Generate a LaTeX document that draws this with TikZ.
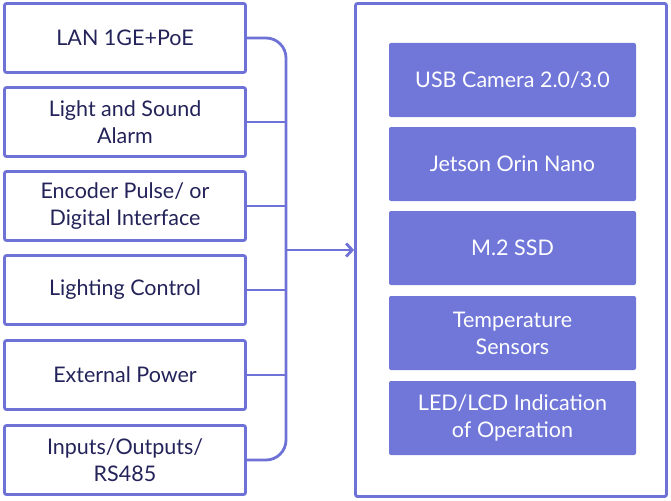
\documentclass[tikz,border=0pt]{standalone}
\usepackage{fontspec}
\setmainfont{Lato}
\usetikzlibrary{arrows.meta}
\definecolor{ln}{HTML}{6E72D6}
\definecolor{fl}{HTML}{7077D9}
\definecolor{tx}{HTML}{23235A}
\begin{document}
\begin{tikzpicture}[x=1pt,y=-1pt,
  lb/.style={draw=ln,line width=2.8pt,rounded corners=2pt,minimum width=241pt,minimum height=69pt,align=center,font=\fontsize{21.5}{27}\selectfont,text=tx,inner sep=0pt},
  rb/.style={fill=fl,rounded corners=2pt,minimum width=247pt,minimum height=74pt,align=center,font=\fontsize{21.5}{27}\selectfont,text=white,inner sep=0pt},
  bus/.style={draw=ln,line width=2.8pt}]
\useasboundingbox (0,0) rectangle (671,500);
\node[lb] (l1) at (125,38) {LAN 1GE+PoE};
\node[lb] (l2) at (125,122) {Light and Sound\\Alarm};
\node[lb] (l3) at (125,206) {Encoder Pulse/ or\\Digital Interface};
\node[lb] (l4) at (125,290) {Lighting Control};
\node[lb] (l5) at (125,375) {External Power};
\node[lb] (l6) at (125,460) {Inputs/Outputs/\\RS485};
\node[draw=ln,line width=2.8pt,rounded corners=2pt,minimum width=311pt,minimum height=493pt,inner sep=0pt] (R) at (511,250) {};
\node[rb] (r1) at (512.5,80) {USB Camera 2.0/3.0};
\node[rb] (r2) at (512.5,164) {Jetson Orin Nano};
\node[rb] (r3) at (512.5,248) {M.2 SSD};
\node[rb] (r4) at (512.5,333) {Temperature\\Sensors};
\node[rb] (r5) at (512.5,418) {LED/LCD Indication\\of Operation};
\coordinate (bt) at (286,38);
\draw[bus,rounded corners=20pt] (l1.east) -| (286,250) |- (l6.east);
\foreach \n in {l2,l3,l4,l5} \draw[bus] (\n.east) -- (\n.east -| bt);
\draw[bus,-{Straight Barb[length=6pt,width=13pt]}] (286,250) -- (R.west);
\end{tikzpicture}
\end{document}
